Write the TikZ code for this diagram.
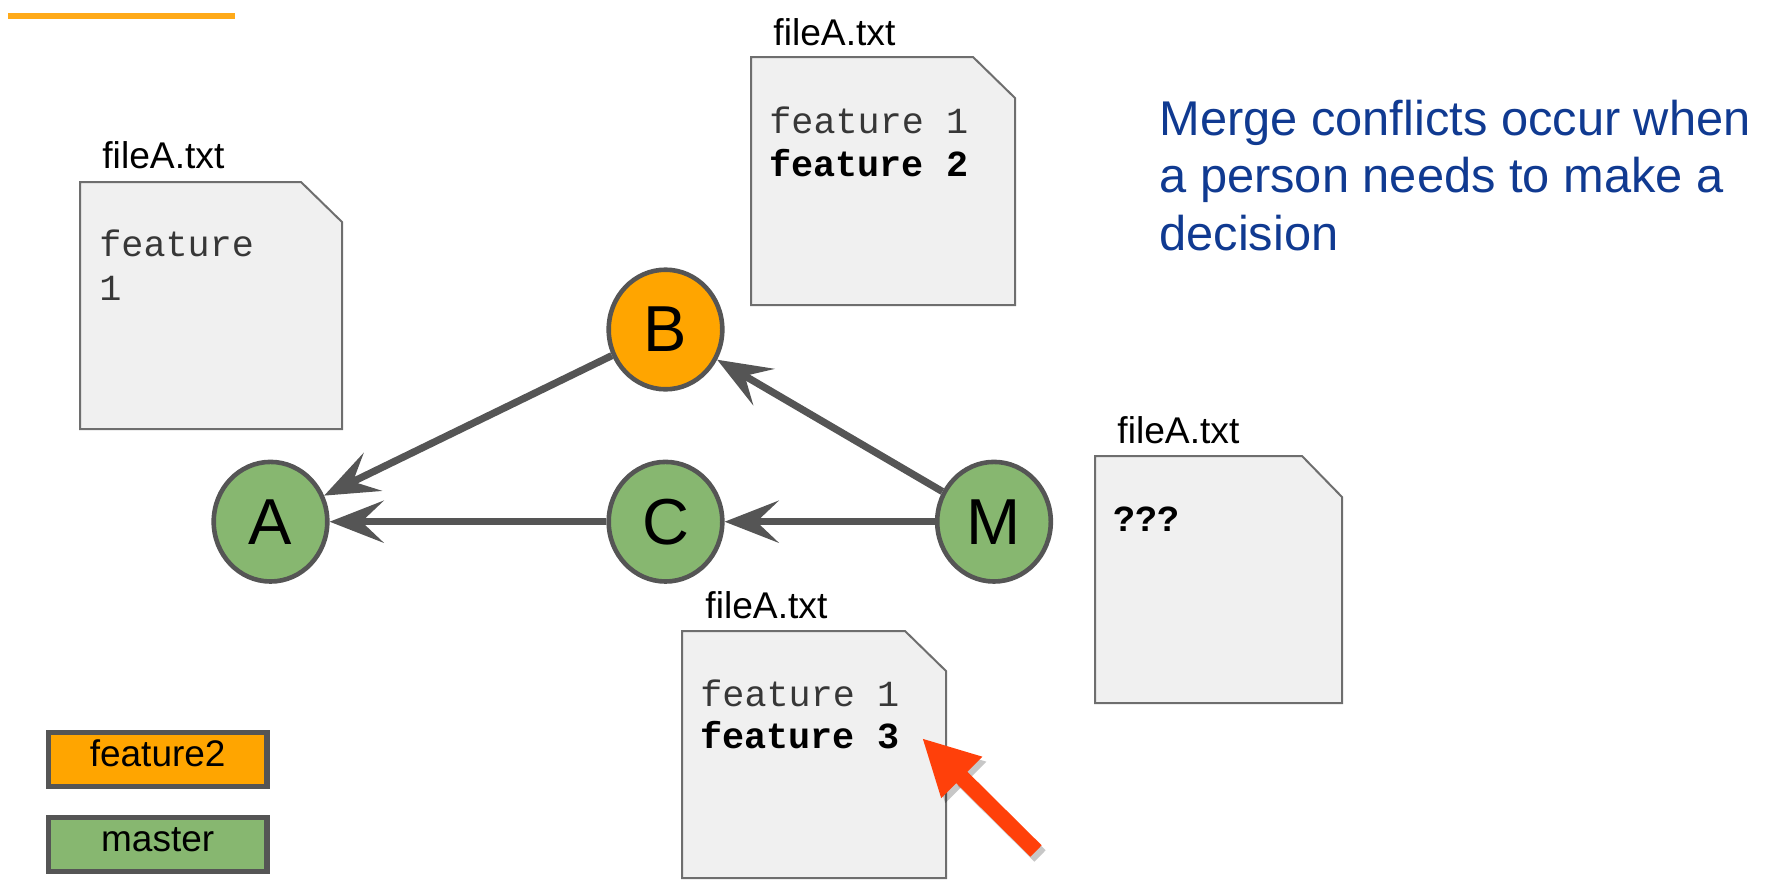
\documentclass[tikz,border=0pt]{standalone}
\usepackage{fontspec}
\setmainfont{Liberation Sans}
\newfontfamily\codefont{Liberation Mono}
\usetikzlibrary{arrows.meta,shapes.geometric}
\definecolor{orangeC}{RGB}{255,165,0}
\definecolor{topline}{RGB}{255,170,25}
\definecolor{greenC}{RGB}{135,183,112}
\definecolor{borderC}{RGB}{85,85,85}
\definecolor{arrowC}{RGB}{85,85,85}
\definecolor{fileFill}{RGB}{240,240,240}
\definecolor{fileBorder}{RGB}{110,110,110}
\definecolor{blueText}{RGB}{16,58,145}
\definecolor{redArrow}{RGB}{255,64,10}
\definecolor{monoGray}{RGB}{55,55,55}
\begin{document}
\begin{tikzpicture}[x=0.5pt,y=-0.5pt,
  commit/.style={ellipse, draw=borderC, line width=2.3pt, inner sep=0pt,
    minimum width=56.8pt, minimum height=59.8pt,
    font=\fontsize{32.5pt}{36pt}\selectfont},
  edge/.style={draw=arrowC, line width=3.6pt,
    -{Stealth[length=27pt,width=21pt,inset=11pt]}},
  filebox/.style={fill=fileFill, draw=fileBorder, line width=1pt},
  filelabel/.style={anchor=base west, inner sep=0pt,
    font=\fontsize{18.6pt}{22pt}\selectfont},
  codeline/.style={anchor=base west, inner sep=0pt, text=monoGray,
    font=\codefont\fontsize{18.4pt}{22pt}\selectfont},
  codebold/.style={anchor=base west, inner sep=0pt, text=black,
    font=\codefont\bfseries\fontsize{18.4pt}{22pt}\selectfont},
  legendbox/.style={draw=borderC, line width=2.6pt, inner sep=0pt,
    minimum width=109.2pt, minimum height=27.2pt,
    text height=0.72em, text depth=0pt,
    font=\fontsize{18.5pt}{22pt}\selectfont},
  mergetext/.style={anchor=base west, inner sep=0pt, text=blueText,
    font=\fontsize{24.4pt}{29pt}\selectfont}
]
\useasboundingbox (0,0) rectangle (1765,890);

% top decorative line
\draw[topline, line width=3pt] (8,16) -- (235,16);

% file documents
\draw[filebox] (80,182) -- (301,182) -- (342,222) -- (342,429) -- (80,429) -- cycle;
\draw[filebox] (751,57) -- (973,57) -- (1015,98) -- (1015,305) -- (751,305) -- cycle;
\draw[filebox] (682,631) -- (905,631) -- (946,671) -- (946,878) -- (682,878) -- cycle;
\draw[filebox] (1095,456) -- (1302,456) -- (1342,497) -- (1342,703) -- (1095,703) -- cycle;

% file labels
\node[filelabel] (lblL) at (102,168) {fileA.txt};
\node[filelabel] (lblT) at (773,45) {fileA.txt};
\node[filelabel] (lblB) at (705,618) {fileA.txt};
\node[filelabel] (lblR) at (1117,443) {fileA.txt};

% file contents
\node[codeline] (l1) at (99,256) {feature};
\node[codeline] (l2) at (99,300) {1};
\node[codeline] (t1) at (769,133) {feature 1};
\node[codebold] (t2) at (769,176) {feature 2};
\node[codeline] (b1) at (700,706) {feature 1};
\node[codebold] (b2) at (700,748) {feature 3};
\node[codebold] (r1) at (1113,531) {???};

% commits
\node[commit, fill=greenC] (A) at (270.5,521.7) {A};
\node[commit, fill=orangeC] (B) at (665.5,329.5) {B};
\node[commit, fill=greenC] (C) at (665.5,521.7) {C};
\node[commit, fill=greenC] (M) at (994,521.7) {M};

% connectors
\draw[edge] (B) -- (A);
\draw[edge] (C) -- (A);
\draw[edge] (M) -- (C);
\draw[edge] (M) -- (B);

% legend
\node[legendbox, fill=orangeC] (legF) at (157.7,759.5) {feature2};
\node[legendbox, fill=greenC] (legM) at (157.7,844.5) {master};

% explanation text
\node[mergetext] (m1) at (1159,135) {Merge conflicts occur when};
\node[mergetext] (m2) at (1159,192) {a person needs to make a};
\node[mergetext] (m3) at (1159,250) {decision};

% red pointer arrow with shadow
\coordinate (redtail) at (1036,851);
\coordinate (redtip) at (922,738);
\coordinate (shtail) at (1040,856);
\coordinate (shtip) at (926,743);
\draw[black, opacity=0.22, line width=8pt, -{Triangle[length=28pt,width=27pt]}] (shtail) -- (shtip);
\draw[redArrow, line width=8pt, -{Triangle[length=28pt,width=27pt]}] (redtail) -- (redtip);
\end{tikzpicture}
\end{document}
